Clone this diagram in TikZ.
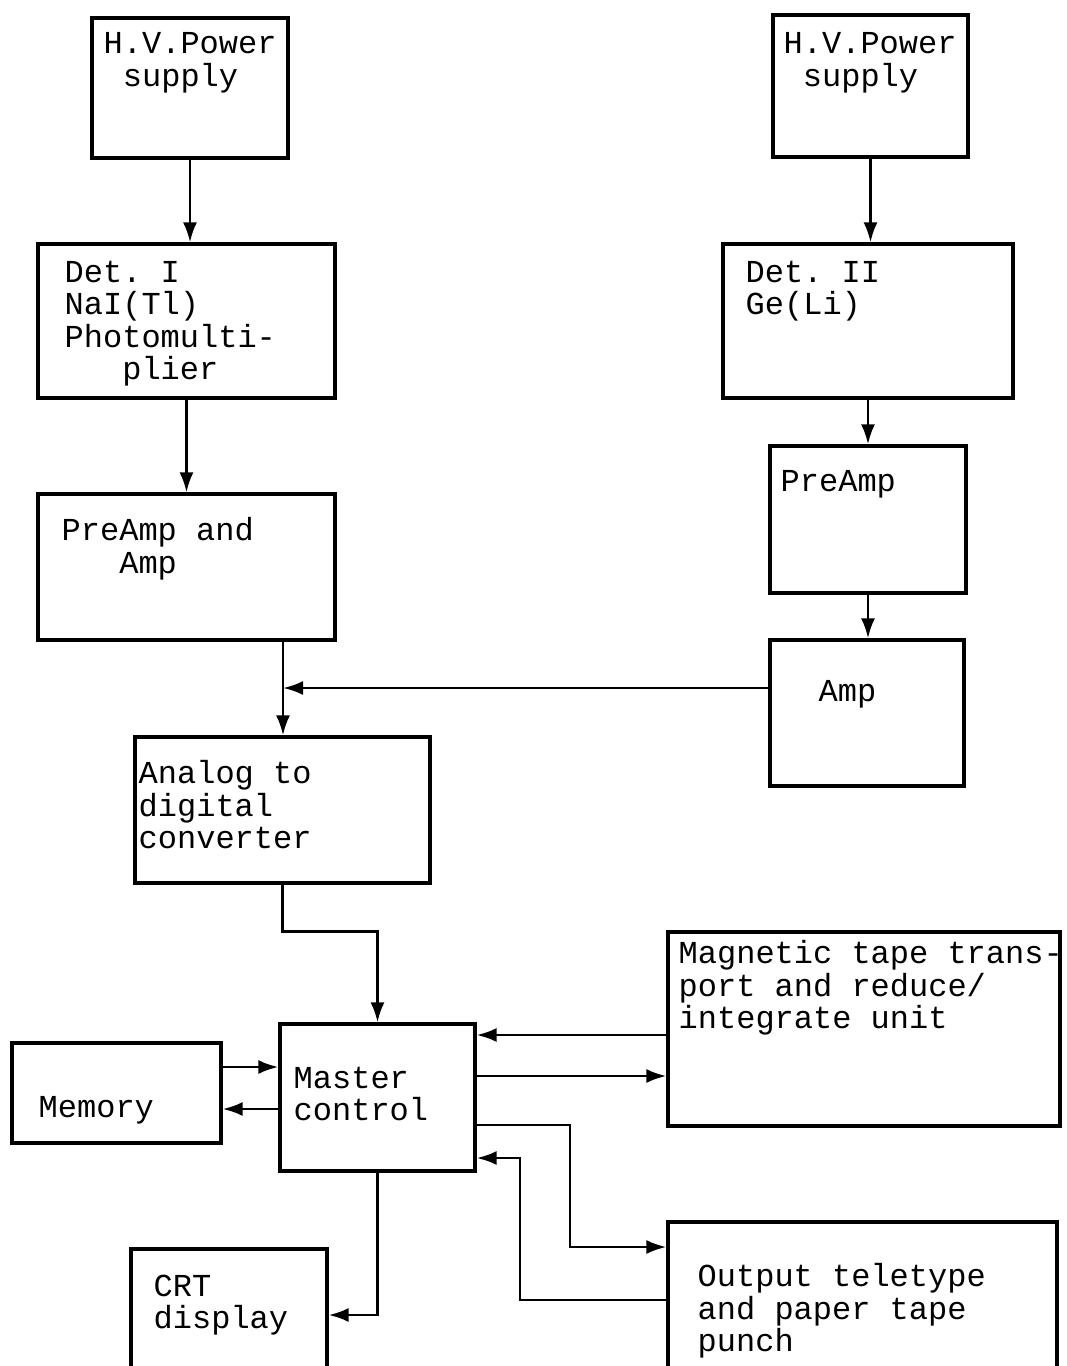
\documentclass[tikz,border=0pt]{standalone}
\usepackage{fontspec}
\setmonofont{Liberation Mono}
\usetikzlibrary{arrows.meta,fit}

\tikzset{
  blk/.style={draw, line width=0.9pt, inner sep=0pt},
  txt/.style={anchor=north west, inner sep=0pt, align=left,
    font=\ttfamily\fontsize{9.1}{9.25}\selectfont},
  arr/.style={-{Latex[length=2mm,width=1.4mm]}, line width=0.8pt},
}

\begin{document}
\begin{tikzpicture}[x=0.01cm,y=-0.01cm]
\useasboundingbox (0,0) rectangle (1067,1366);
% detector I chain
\node[blk, fit={(92,18) (288,158)}] (hv1) {};
\node[blk, fit={(38,244) (335,398)}] (det1) {};
\node[blk, fit={(38,494) (335,640)}] (pre1) {};
% detector II chain
\node[blk, fit={(773,15) (968,157)}] (hv2) {};
\node[blk, fit={(723,244) (1013,398)}] (det2) {};
\node[blk, fit={(770,446) (966,593)}] (preamp2) {};
\node[blk, fit={(770,640) (964,786)}] (amp2) {};
% conversion and control
\node[blk, fit={(135,737) (430,883)}] (adc) {};
\node[blk, fit={(280,1024) (475,1171)}] (master) {};
\node[blk, fit={(12,1043) (221,1143)}] (memory) {};
\node[blk, fit={(668,932) (1060,1126)}] (mag) {};
\node[blk, fit={(131,1249) (327,1380)}] (crt) {};
\node[blk, fit={(668,1222) (1057,1380)}] (out) {};

% labels
\node[txt] (hv1t) at (103,32) {H.V.Power\\\phantom{H}supply};
\node[txt] (hv2t) at (783,32) {H.V.Power\\\phantom{H}supply};
\node[txt] (det1t) at (64,260) {Det. I\\NaI(Tl)\\Photomulti-\\\phantom{Pho}plier};
\node[txt] (det2t) at (745,260) {Det. II\\Ge(Li)};
\node[txt] (pre1t) at (61,517) {PreAmp and\\\phantom{Pre}Amp};
\node[txt] (preamp2t) at (780,470) {PreAmp};
\node[txt] (amp2t) at (818,680) {Amp};
\node[txt] (adct) at (138,760) {Analog to\\digital\\converter};
\node[txt] (magt) at (678,940) {Magnetic tape trans-\\port and reduce/\\integrate unit};
\node[txt] (mastert) at (293,1066) {Master\\control};
\node[txt] (memoryt) at (38,1096) {Memory};
\node[txt] (crtt) at (153,1274) {CRT\\display};
\node[txt] (outt) at (697,1263) {Output teletype\\and paper tape\\punch};

% signal paths
\coordinate (jn) at (283,688);
\draw[arr] (hv1.south) -- (hv1.south |- det1.north);
\draw[arr] (det1.south) -- (det1.south |- pre1.north);
\draw[arr] (hv2.south) -- (hv2.south |- det2.north);
\draw[arr] (det2.south) -- (det2.south |- preamp2.north);
\draw[arr] (preamp2.south) -- (preamp2.south |- amp2.north);
\draw[arr] (jn |- pre1.south) -- (jn |- adc.north);
\draw[arr] (amp2.west |- jn) -- (jn);
\draw[arr] (adc.south) -- ++(0,47) -| (master.north);
% master control links
\draw[arr] (mag.west |- 0,1035) -- (master.east |- 0,1035);
\draw[arr] (master.east |- 0,1076) -- (mag.west |- 0,1076);
\draw[arr] (master.east |- 0,1125) -| (570,1247) -- (out.west |- 0,1247);
\draw[arr] (out.west |- 0,1300) -| (520,1158) -- (master.east |- 0,1158);
\draw[arr] (memory.east |- 0,1067) -- (master.west |- 0,1067);
\draw[arr] (master.west |- 0,1109) -- (memory.east |- 0,1109);
\draw[arr] (master.south) |- (crt.east |- 0,1315);
\end{tikzpicture}
\end{document}
